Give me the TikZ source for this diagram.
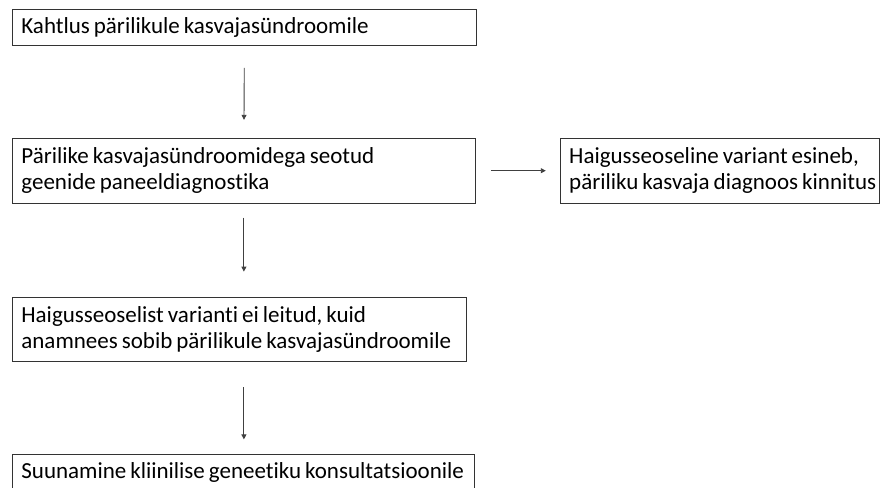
\documentclass[tikz,border=0pt]{standalone}
\usepackage{fontspec}
\setmainfont{Carlito}[Ligatures=NoCommon]
\usetikzlibrary{arrows.meta}
\usetikzlibrary{positioning}

\tikzset{
  box/.style={draw=black!80,line width=0.8pt,rectangle,anchor=north west,inner xsep=9pt,inner ysep=0pt,align=left,font=\fontsize{23}{26}\selectfont,execute at begin node={\spaceskip 4pt plus 1pt\relax}},
  arr/.style={draw=black!75,line width=0.9pt,-{Triangle[length=5pt,width=5pt]}}
}

\begin{document}
\begin{tikzpicture}[x=1pt,y=1pt]
\useasboundingbox (0,0) rectangle (880,-487);

\node[box,text width=446pt,minimum height=36pt] (suspect) at (12,-9) {Kahtlus pärilikule kasvajasündroomile};
\node[box,text width=445pt,minimum height=65pt,below=92pt of suspect.south west,anchor=north west] (panel) {Pärilike kasvajasündroomidega seotud\\geenide paneeldiagnostika};
\node[box,text width=301pt,minimum height=65pt,right=84pt of panel.north east,anchor=north west] (found) {\mbox{Haigusseoseline variant esineb,}\\\mbox{päriliku kasvaja diagnoos kinnitus}};
\node[box,text width=436pt,minimum height=64pt,below=93pt of panel.south west,anchor=north west] (notfound) {Haigusseoselist varianti ei leitud, kuid\\anamnees sobib pärilikule kasvajasündroomile};
\node[box,text width=444pt,minimum height=36pt,below=93pt of notfound.south west,anchor=north west] (referral) {Suunamine kliinilise geneetiku konsultatsioonile};

\draw[arr,shorten <=22pt,shorten >=18pt] (suspect.south) -- (panel.north);
\draw[arr,shorten <=15pt,shorten >=14pt] (panel.east) -- (found.west);
\draw[arr,shorten <=14pt,shorten >=25pt] (panel.south) -- (panel.south |- notfound.north);
\draw[arr,shorten <=26pt,shorten >=15pt] (panel.south |- notfound.south) -- (panel.south |- referral.north);
\end{tikzpicture}
\end{document}
